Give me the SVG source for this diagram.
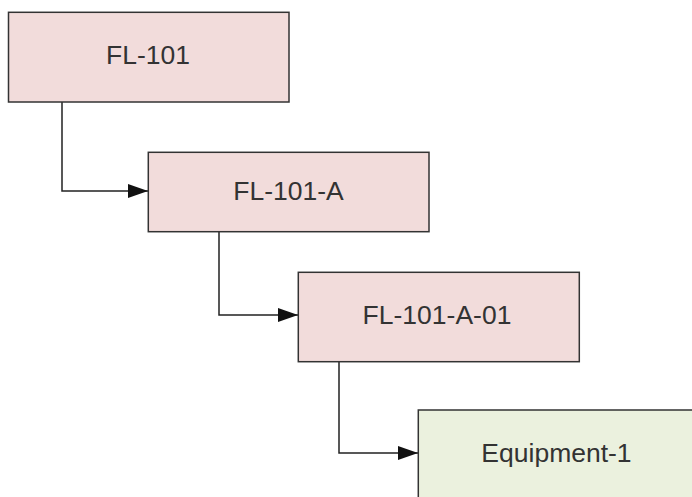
<svg xmlns="http://www.w3.org/2000/svg" width="692" height="497" viewBox="0 0 692 497">
<style>
.box{stroke:#333;stroke-width:1.5}
.pink{fill:#f2dcdb}
.green{fill:#ebf1de}
.lbl{font-family:"Liberation Sans",Arial,sans-serif;font-size:26.5px;fill:#333;text-anchor:middle}
.conn{fill:none;stroke:#222;stroke-width:1.5}
</style>
<defs>
<marker id="arr" markerWidth="20" markerHeight="14" refX="20" refY="7" orient="auto" markerUnits="userSpaceOnUse">
<path d="M0,0 L20,7 L0,14 Z" fill="#111"/>
</marker>
</defs>
<rect width="692" height="497" fill="#fff"/>
<g id="connectors">
<path class="conn" d="M62,102 V191 H148" marker-end="url(#arr)"/>
<path class="conn" d="M219,232 V315 H298" marker-end="url(#arr)"/>
<path class="conn" d="M339,359 V453 H418" marker-end="url(#arr)"/>
</g>
<g id="n1">
<rect class="box pink" x="8.5" y="12.3" width="280.5" height="89.7"/>
<text class="lbl" x="148" y="64">FL-101</text>
</g>
<g id="n2">
<rect class="box pink" x="148.3" y="152.3" width="280.7" height="79.4"/>
<text class="lbl" x="288.5" y="200">FL-101-A</text>
</g>
<g id="n3">
<rect class="box pink" x="298.3" y="272.3" width="281" height="89.4"/>
<text class="lbl" x="437" y="324">FL-101-A-01</text>
</g>
<g id="n4">
<rect class="box green" x="418.3" y="410" width="280" height="100"/>
<text class="lbl" x="556.5" y="462">Equipment-1</text>
</g>
</svg>
